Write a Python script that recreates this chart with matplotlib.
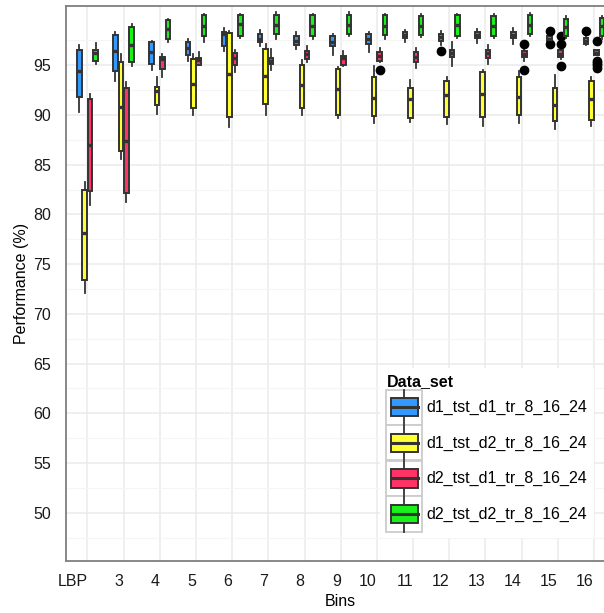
import numpy as np
import matplotlib
matplotlib.use("Agg")
import matplotlib.pyplot as plt
import matplotlib.transforms as mtransforms
from matplotlib.legend_handler import HandlerBase
from matplotlib.patches import Rectangle, Patch
from matplotlib.lines import Line2D

plt.rcParams['font.family'] = ['Liberation Sans', 'DejaVu Sans']

bins = ['LBP', '3', '4', '5', '6', '7', '8', '9', '10', '11', '12', '13', '14', '15', '16']
series = ['d1_tst_d1_tr_8_16_24', 'd1_tst_d2_tr_8_16_24',
          'd2_tst_d1_tr_8_16_24', 'd2_tst_d2_tr_8_16_24']
colors = ['#3399FF', '#FFFF33', '#FF3366', '#1AF01A']

# per bin: whisker low, q1, median, q3, whisker high
d1_d1 = [[90.3, 91.8, 94.4, 96.5, 97.0], [93.4, 94.4, 96.4, 98.0, 98.3],
         [94.5, 95.1, 96.3, 97.3, 97.4], [95.4, 96.0, 96.7, 97.3, 97.6],
         [96.4, 96.9, 98.1, 98.35, 98.7], [96.9, 97.3, 97.65, 98.15, 98.5],
         [96.6, 97.0, 97.4, 97.9, 98.3], [96.0, 96.9, 97.3, 97.95, 98.15],
         [96.3, 97.1, 97.6, 98.1, 98.3], [97.3, 97.7, 98.0, 98.35, 98.55],
         [97.0, 97.4, 97.8, 98.15, 98.4], [97.2, 97.7, 98.05, 98.35, 98.6],
         [97.1, 97.7, 98.05, 98.3, 98.7], [97.4, 97.4, 97.6, 97.9, 97.9],
         [97.0, 97.1, 97.4, 97.7, 97.8]]
d1_d2 = [[72.1, 73.4, 78.1, 82.5, 83.3], [85.55, 86.4, 90.8, 95.3, 96.1],
         [90.1, 91.0, 92.45, 92.8, 93.8], [90.0, 90.7, 93.1, 95.6, 96.1],
         [88.8, 89.8, 94.1, 98.2, 98.45], [90.0, 91.1, 93.9, 96.6, 97.1],
         [90.0, 90.7, 93.05, 95.0, 95.5], [89.7, 90.0, 92.65, 94.6, 94.8],
         [89.2, 89.9, 91.7, 93.85, 94.9], [89.3, 89.7, 91.6, 92.7, 93.5],
         [89.1, 89.8, 92.0, 93.4, 93.8], [88.9, 89.8, 92.1, 94.3, 94.5],
         [89.2, 90.0, 91.8, 93.85, 94.4], [88.6, 89.4, 91.0, 92.7, 94.05],
         [88.9, 89.5, 91.6, 93.45, 93.8]]
d2_d1 = [[80.95, 82.3, 87.0, 91.6, 92.1], [81.2, 82.1, 87.4, 92.75, 93.35],
         [93.85, 94.6, 95.6, 95.8, 96.1], [95.0, 95.0, 95.5, 95.7, 96.3],
         [94.3, 95.0, 95.7, 96.2, 96.5], [94.5, 95.1, 95.4, 95.7, 96.6],
         [95.3, 95.6, 96.1, 96.4, 96.9], [94.9, 95.0, 95.7, 95.9, 96.4],
         [95.3, 95.4, 95.9, 96.3, 96.7], [94.7, 95.3, 95.8, 96.3, 96.7],
         [94.9, 95.8, 96.2, 96.5, 97.3], [95.1, 95.7, 96.2, 96.5, 97.0],
         [95.4, 95.8, 96.1, 96.4, 96.7], [95.6, 95.8, 96.1, 96.5, 96.6],
         [96.0, 96.0, 96.2, 96.5, 96.5]]
d2_d2 = [[95.1, 95.45, 96.2, 96.5, 97.2], [94.9, 95.3, 97.0, 98.8, 99.1],
         [97.3, 97.65, 98.6, 99.5, 99.65], [97.3, 97.9, 98.95, 100.0, 100.1],
         [97.7, 97.95, 99.1, 100.0, 100.1], [97.65, 98.1, 99.0, 100.0, 100.3],
         [97.6, 97.9, 98.9, 100.0, 100.1], [97.9, 98.1, 99.0, 100.0, 100.3],
         [97.65, 98.05, 98.95, 100.0, 100.1], [97.8, 98.0, 98.95, 99.95, 100.1],
         [97.7, 97.95, 99.0, 100.0, 100.1], [97.7, 97.95, 98.95, 99.9, 100.1],
         [97.9, 98.1, 99.05, 100.0, 100.2], [97.7, 97.95, 98.8, 99.65, 99.9],
         [97.6, 97.95, 98.9, 99.7, 99.9]]

# outliers: (series index, bin label) -> values
outliers = {
    (0, '12'): [96.4],
    (0, '15'): [98.4, 97.1],
    (0, '16'): [98.4],
    (2, '10'): [94.55],
    (2, '14'): [97.1, 94.5],
    (2, '15'): [97.9, 97.1, 94.9],
    (2, '16'): [97.4, 95.45, 95.2, 95.0, 94.75],
}

all_data = [d1_d1, d1_d2, d2_d1, d2_d2]
offsets = [-0.225, -0.075, 0.075, 0.225]

fig = plt.figure(figsize=(6.04, 6.13), dpi=100)
ax = fig.add_axes([65.7 / 604, 1 - 561 / 613, 550 / 604, 555 / 613])

edge = '#333333'
for s, data in enumerate(all_data):
    stats = []
    for b, row in enumerate(data):
        wlo, q1, med, q3, whi = row
        stats.append(dict(whislo=wlo, q1=q1, med=med, q3=q3, whishi=whi,
                          fliers=outliers.get((s, bins[b]), [])))
    pos = np.arange(1, len(bins) + 1) + offsets[s]
    ax.bxp(stats, positions=pos, widths=0.125, patch_artist=True,
           showcaps=False, manage_ticks=False,
           boxprops=dict(facecolor=colors[s], edgecolor=edge, linewidth=1.4),
           medianprops=dict(color=edge, linewidth=2.4, solid_capstyle='butt'),
           whiskerprops=dict(color=edge, linewidth=1.3),
           flierprops=dict(marker='o', markerfacecolor='black',
                           markeredgecolor='black', markersize=6),
           zorder=3)

ax.set_xlim(0.4, 15.6)
ax.set_ylim(45.15, 100.95)
ax.set_yticks(np.arange(50, 100, 5))
ax.set_yticks(np.arange(47.5, 100, 5), minor=True)
ax.set_xticks(np.arange(1, len(bins) + 1))
ax.set_xticklabels(bins, ha='right')
shift = mtransforms.ScaledTranslation(-3 / 100, 0, fig.dpi_scale_trans)
for lab in ax.get_xticklabels():
    lab.set_transform(lab.get_transform() + shift)

ax.grid(True, which='major', color='#EBEBEB', linewidth=1.1, zorder=0)
ax.grid(True, which='minor', axis='y', color='#F5F5F5', linewidth=0.8, zorder=0)
ax.set_axisbelow(True)
ax.tick_params(axis='both', which='both', length=0, labelsize=11.5,
               labelcolor='#1A1A1A')
ax.tick_params(axis='x', pad=9.5)
ax.tick_params(axis='y', pad=10.5)
for sp in ax.spines.values():
    sp.set_color('#7F7F7F')
    sp.set_linewidth(1.3)

ax.set_xlabel('Bins', fontsize=11.5)
ax.set_ylabel('Performance (%)', fontsize=11.5, labelpad=3)
ax.xaxis.set_label_coords((340.7 - 65.7) / 550, -(594 - 561) / 555)


class BoxKey(HandlerBase):
    def create_artists(self, legend, orig_handle, xdescent, ydescent,
                       width, height, fontsize, trans):
        x0, y0 = -xdescent, -ydescent
        bg = Rectangle((x0, y0), width, height, facecolor='white',
                       edgecolor='#CCCCCC', linewidth=1.3, transform=trans)
        cx = x0 + width / 2
        wl = Line2D([cx, cx], [y0, y0 + height], color=edge, lw=1.3,
                    transform=trans)
        bw = width * 0.76
        box = Rectangle((cx - bw / 2, y0 + height * 0.24), bw, height * 0.52,
                        facecolor=orig_handle.get_facecolor(),
                        edgecolor=edge, linewidth=1.4, transform=trans)
        med = Line2D([cx - bw / 2, cx + bw / 2], [y0 + height / 2] * 2,
                     color=edge, lw=2.2, transform=trans)
        return [bg, wl, box, med]


handles = [Patch(facecolor=c) for c in colors]
leg = fig.legend(handles, series, handler_map={Patch: BoxKey()},
                 loc='upper left', bbox_to_anchor=(372 / 604, 1 - 360 / 613),
                 title='Data_set', fontsize=11.5,
                 title_fontproperties={'weight': 'bold', 'size': 11.5},
                 alignment='left', handlelength=2.25, handleheight=3.0,
                 labelspacing=0.03, handletextpad=0.25, borderpad=0.4,
                 frameon=True, fancybox=False, facecolor='white',
                 edgecolor='none', framealpha=1)
leg.set_zorder(10)

fig.savefig('out.png', dpi=100)
